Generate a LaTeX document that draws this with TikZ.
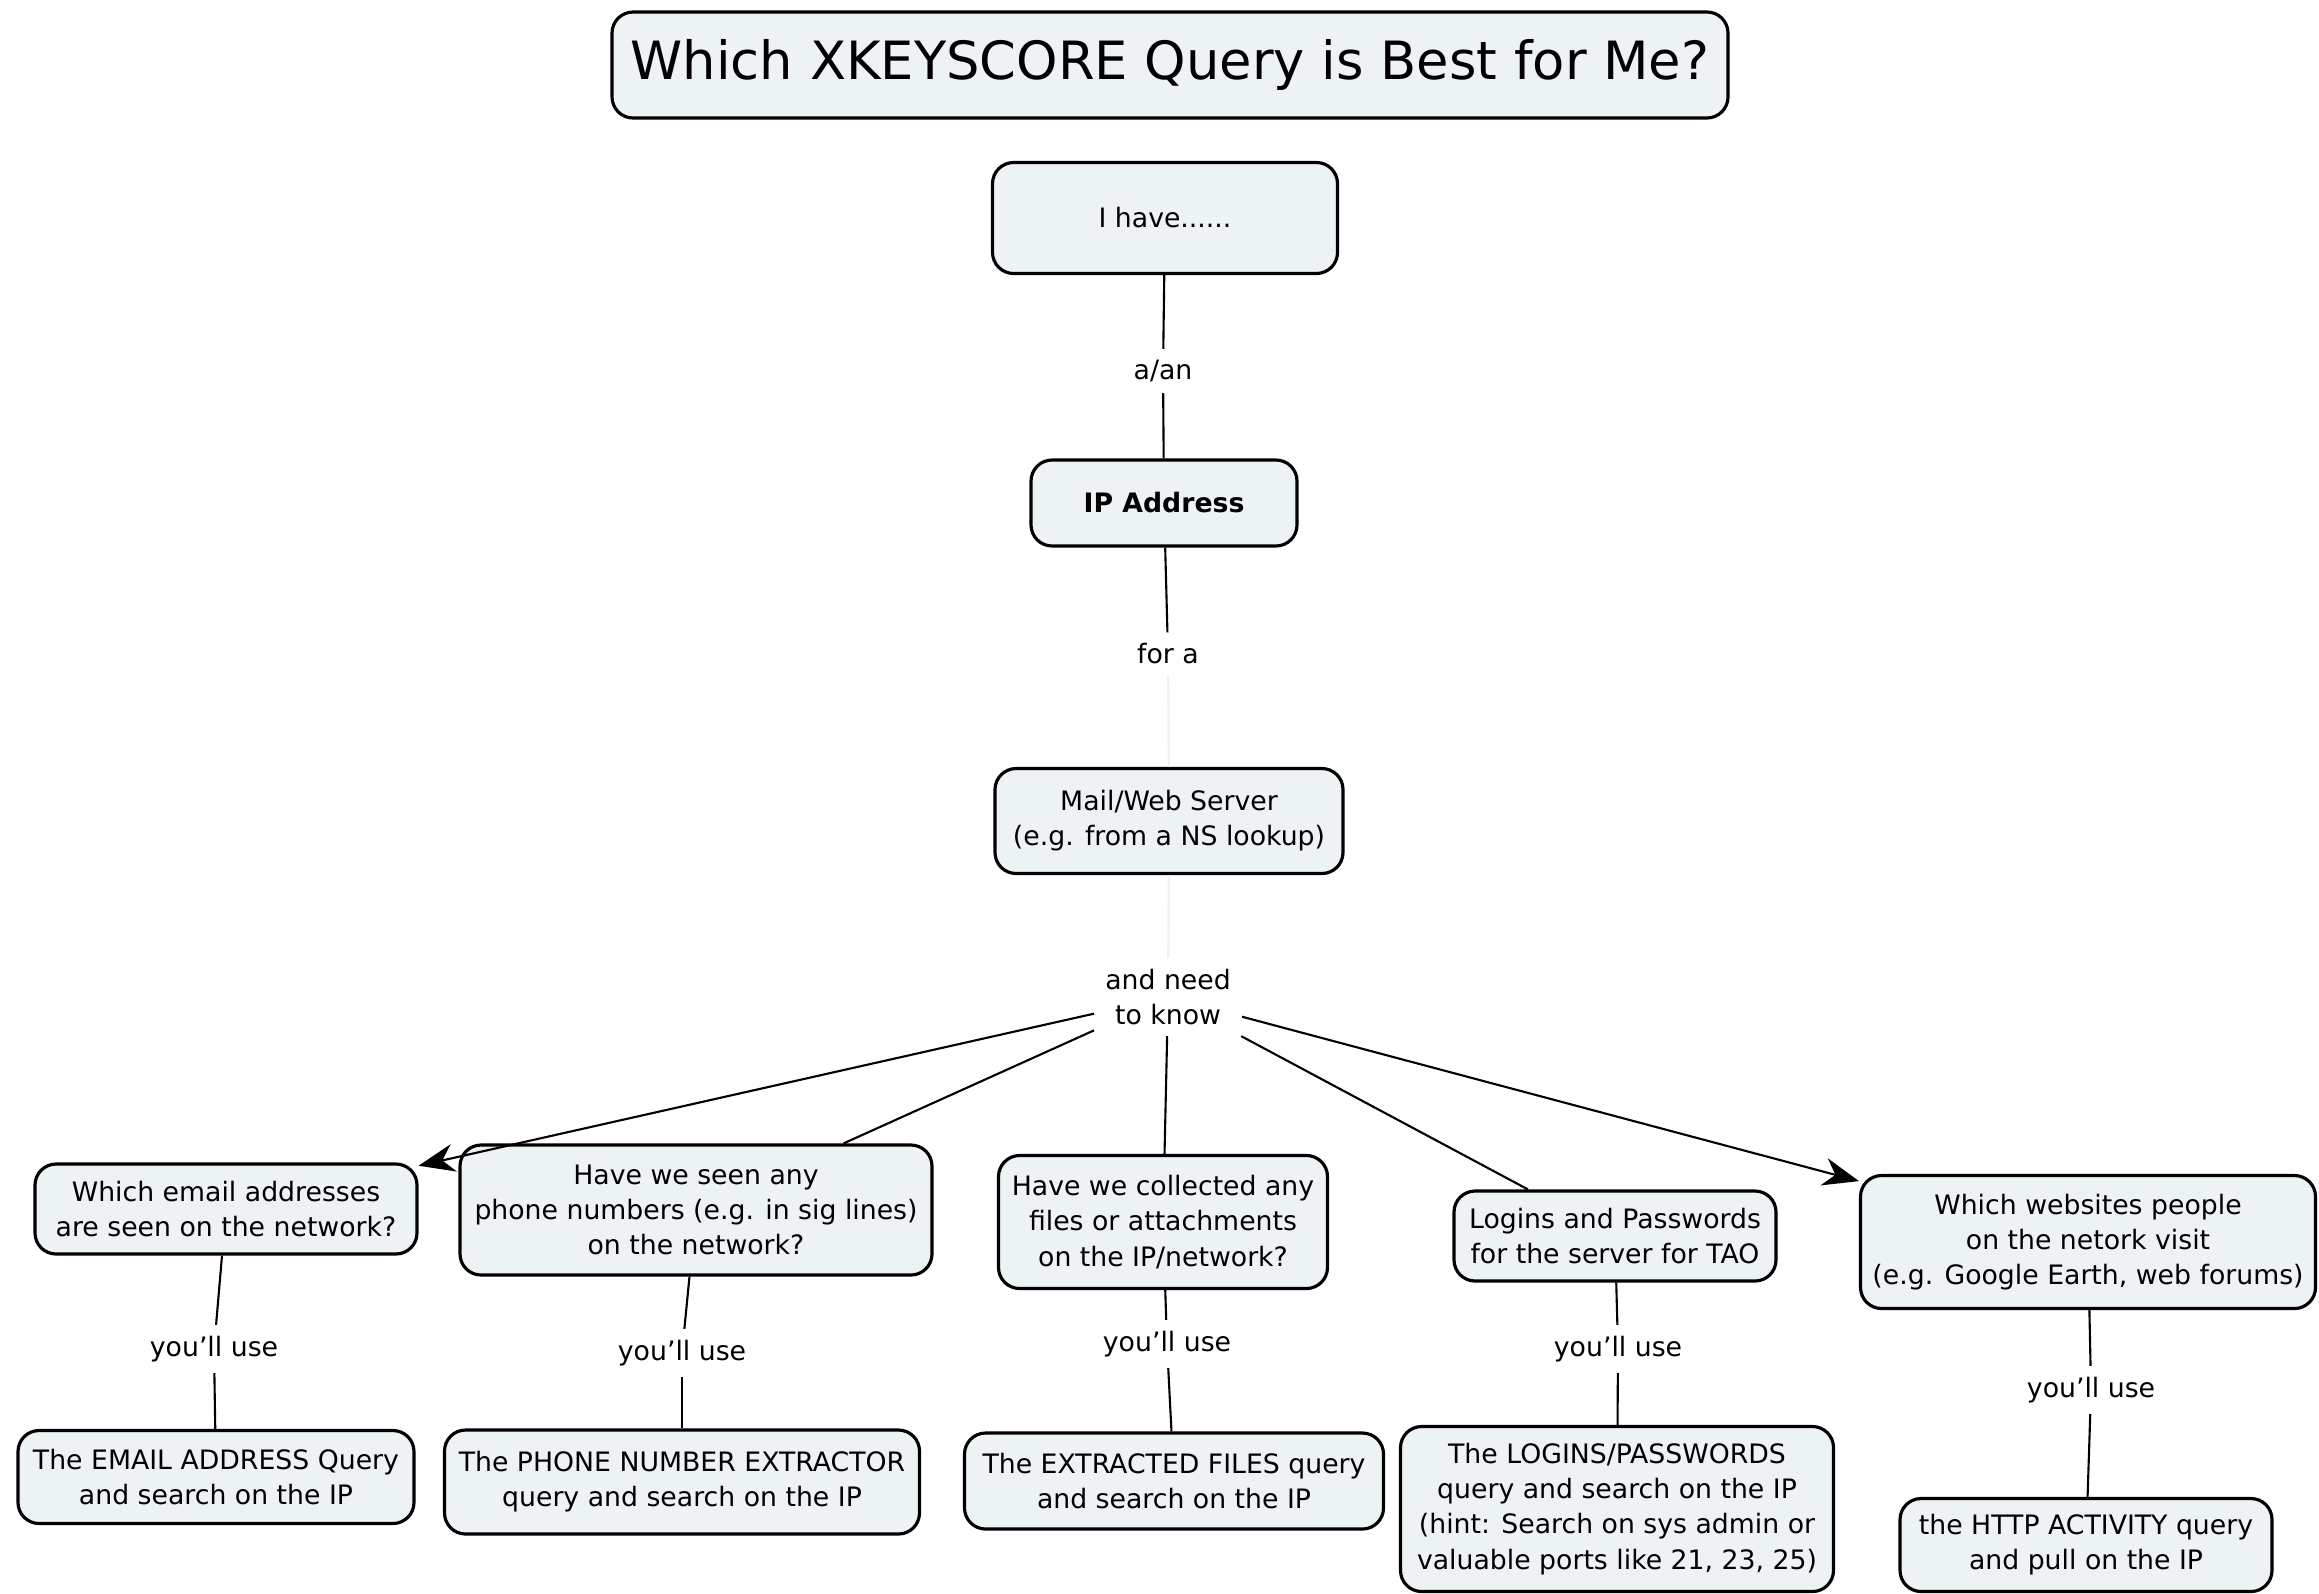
\documentclass[tikz,border=0pt]{standalone}
\usepackage{fontspec}
\setmainfont{DejaVu Sans}
\usepackage{tikz}
\usetikzlibrary{shapes,arrows.meta}
\definecolor{boxfill}{HTML}{EDF2F5}
\tikzstyle{concept} = [draw, fill=boxfill, rectangle, rounded corners=6pt,
    line width=0.9pt, align=center, inner sep=2pt,
    font=\fontsize{7.6}{10}\selectfont]
\tikzstyle{link} = [align=center, inner sep=3pt, font=\fontsize{7.6}{10}\selectfont]

\begin{document}
\begin{tikzpicture}
\useasboundingbox (0,0) rectangle (23.19,-15.93);

\tikzset{>={Stealth[length=3.6mm,width=2.8mm]}}
\tikzstyle{wire} = [line width=0.6pt];
\tikzstyle{faint} = [line width=0.6pt, draw=black!6];

\node[concept,minimum width=11.16cm,minimum height=1.06cm,
      font=\fontsize{15}{18}\selectfont] (title) at (11.70,-0.65) {Which XKEYSCORE Query is Best for Me?};

\node[concept,minimum width=3.45cm,minimum height=1.11cm] (have) at (11.65,-2.18) {I have......};
\node[link] (aan) at (11.63,-3.71) {a/an};
\node[concept,minimum width=2.66cm,minimum height=0.86cm,font=\fontsize{7.6}{10}\selectfont\bfseries] (ip) at (11.64,-5.03) {IP Address};
\node[link] (fora) at (11.68,-6.54) {for a};
\node[concept,minimum width=3.48cm,minimum height=1.05cm] (server) at (11.69,-8.21) {Mail/Web Server\\(e.g. from a NS lookup)};
\node[link] (need) at (11.68,-9.97) {and need\\to know};

% questions
\node[concept,minimum width=3.82cm,minimum height=0.90cm] (q1) at (2.26,-12.09) {Which email addresses\\are seen on the network?};
\node[concept,minimum width=4.72cm,minimum height=1.30cm] (q2) at (6.96,-12.10) {Have we seen any\\phone numbers (e.g. in sig lines)\\on the network?};
\node[concept,minimum width=3.29cm,minimum height=1.33cm] (q3) at (11.63,-12.22) {Have we collected any\\files or attachments\\on the IP/network?};
\node[concept,minimum width=3.22cm,minimum height=0.90cm] (q4) at (16.15,-12.36) {Logins and Passwords\\for the server for TAO};
\node[concept,minimum width=4.55cm,minimum height=1.33cm] (q5) at (20.88,-12.42) {Which websites people\\on the netork visit\\(e.g. Google Earth, web forums)};

\node[link] (u1) at (2.14,-13.49) {you'll use};
\node[link] (u2) at (6.82,-13.53) {you'll use};
\node[link] (u3) at (11.67,-13.44) {you'll use};
\node[link] (u4) at (16.18,-13.49) {you'll use};
\node[link] (u5) at (20.91,-13.90) {you'll use};

% queries
\node[concept,minimum width=3.96cm,minimum height=0.93cm] (a1) at (2.16,-14.77) {The EMAIL ADDRESS Query\\and search on the IP};
\node[concept,minimum width=4.75cm,minimum height=1.04cm] (a2) at (6.82,-14.82) {The PHONE NUMBER EXTRACTOR\\query and search on the IP};
\node[concept,minimum width=4.19cm,minimum height=0.96cm] (a3) at (11.74,-14.81) {The EXTRACTED FILES query\\and search on the IP};
\node[concept,minimum width=4.33cm,minimum height=1.65cm] (a4) at (16.17,-15.09) {The LOGINS/PASSWORDS\\query and search on the IP\\(hint: Search on sys admin or\\valuable ports like 21, 23, 25)};
\node[concept,minimum width=3.72cm,minimum height=0.93cm] (a5) at (20.86,-15.45) {the HTTP ACTIVITY query\\and pull on the IP};

\draw[wire] (have) -- (aan);
\draw[wire] (aan) -- (ip);
\draw[wire] (ip) -- (fora);
\draw[faint] (fora) -- (server);
\draw[faint] (server) -- (need);

\draw[wire,->] (need) -- (q1);
\draw[wire] (need) -- (q2);
\draw[wire] (need) -- (q3);
\draw[wire] (need) -- (q4);
\draw[wire,->] (need) -- (q5);

\draw[wire] (q1) -- (u1);  \draw[wire] (u1) -- (a1);
\draw[wire] (q2) -- (u2);  \draw[wire] (u2) -- (a2);
\draw[wire] (q3) -- (u3);  \draw[wire] (u3) -- (a3);
\draw[wire] (q4) -- (u4);  \draw[wire] (u4) -- (a4);
\draw[wire] (q5) -- (u5);  \draw[wire] (u5) -- (a5);

\end{tikzpicture}
\end{document}
